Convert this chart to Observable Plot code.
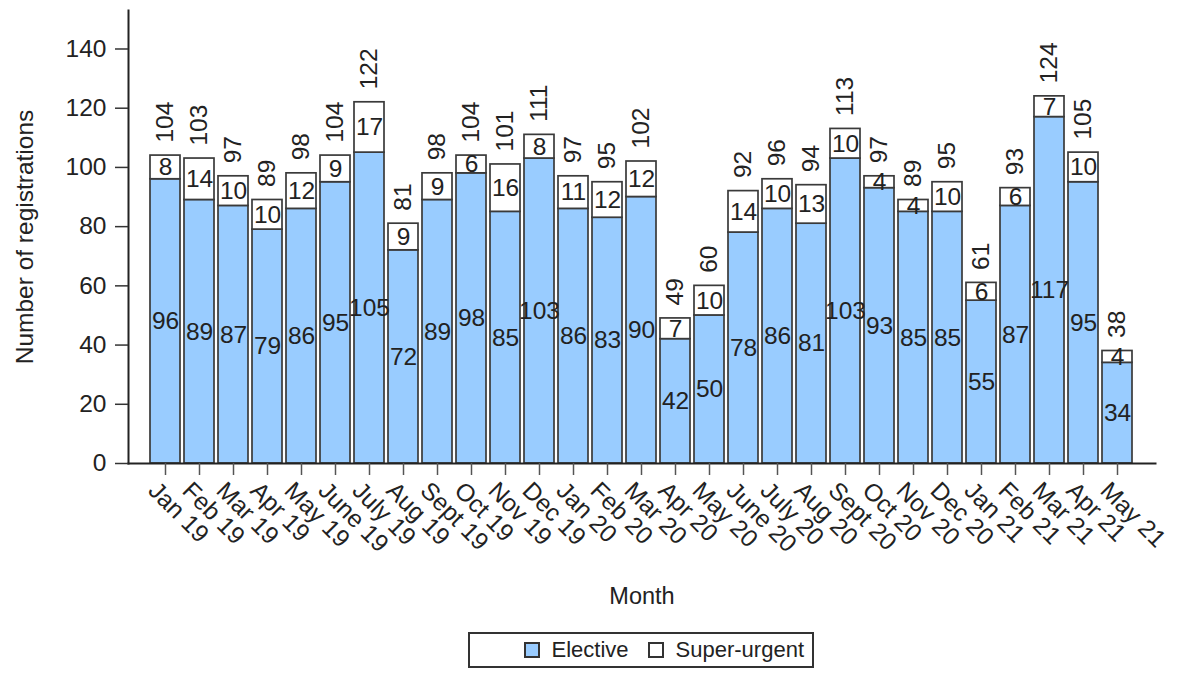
<!DOCTYPE html>
<html>
<head>
<meta charset="utf-8">
<script src="https://cdn.jsdelivr.net/npm/d3@7"></script>
<script src="https://cdn.jsdelivr.net/npm/@observablehq/plot@0.6"></script>
<style>
  html, body { margin: 0; padding: 0; background: #fff; }
  #wrap { position: relative; width: 1187px; height: 679px; font-family: "Liberation Sans", Arial, sans-serif; }
  #legend { position: absolute; left: 468px; top: 632px; width: 334px; height: 32px;
    border: 2px solid #333; display: flex; align-items: center; justify-content: flex-end;
    padding-right: 8px; box-sizing: content-box; font-size: 22px; color: #222; }
  #legend .item { display: flex; align-items: center; margin-left: 19px; }
  #legend .sw { width: 12px; height: 12px; border: 2px solid #333; margin-right: 12px; }
</style>
</head>
<body>
<div id="wrap">
  <div id="chart"></div>
  <div id="legend"></div>
</div>
<script>
const months = ["Jan 19","Feb 19","Mar 19","Apr 19","May 19","June 19","July 19","Aug 19","Sept 19","Oct 19","Nov 19","Dec 19",
  "Jan 20","Feb 20","Mar 20","Apr 20","May 20","June 20","July 20","Aug 20","Sept 20","Oct 20","Nov 20","Dec 20",
  "Jan 21","Feb 21","Mar 21","Apr 21","May 21"];
const elective = [96,89,87,79,86,95,105,72,89,98,85,103,86,83,90,42,50,78,86,81,103,93,85,85,55,87,117,95,34];
const superUrgent = [8,14,10,10,12,9,17,9,9,6,16,8,11,12,12,7,10,14,10,13,10,4,4,10,6,6,7,10,4];
const series = ["Elective","Super-urgent"];
const seriesColors = ["#99ccff","#ffffff"];
const yTicks = [0,20,40,60,80,100,120,140];

const rows = [];
months.forEach((m, i) => {
  rows.push({month: m, type: series[0], value: elective[i]});
  rows.push({month: m, type: series[1], value: superUrgent[i]});
});
const totals = months.map((m, i) => ({month: m, total: elective[i] + superUrgent[i]}));

const font = "Liberation Sans, Arial, sans-serif";
const chart = Plot.plot({
  width: 1187,
  height: 622,
  marginLeft: 128,
  marginRight: 32,
  marginTop: 10,
  marginBottom: 159,
  insetLeft: 18,
  insetRight: 19,
  style: {fontFamily: font, fontSize: "24px", color: "#222", background: "#fff"},
  x: {domain: months, paddingInner: 0.12, paddingOuter: 0.06},
  y: {domain: [0, 153]},
  color: {domain: series, range: seriesColors},
  marks: [
    Plot.barY(rows, {x: "month", y: "value", fill: "type", stroke: "#3a3a3a", strokeWidth: 1.7}),
    Plot.text(rows, Plot.stackY({x: "month", y: "value", text: d => String(d.value), fontSize: 24.5, fill: "#222"})),
    Plot.text(totals, {x: "month", y: "total", text: d => String(d.total), rotate: -90, textAnchor: "start", dy: -13, fontSize: 24.5, fill: "#222"}),
    Plot.frame({anchor: "left", stroke: "#222", strokeWidth: 2}),
    Plot.frame({anchor: "bottom", stroke: "#222", strokeWidth: 2}),
    Plot.axisY({ticks: yTicks, tickSize: 13, tickPadding: 9, stroke: "#333", strokeWidth: 1.5,
      label: "Number of registrations", labelAnchor: "center", labelArrow: "none", labelOffset: 113, fontSize: 24.5}),
    // rotated month tick labels
    Plot.axisX({tickSize: 0, tickPadding: 15, tickRotate: 45, fontSize: 24.5, dx: -13, dy: 8, label: null}),
    // tick marks
    Plot.axisX({tickSize: 12, tickPadding: 0, stroke: "#555", strokeWidth: 1.5, tickFormat: () => "", label: null}),
    // axis title
    Plot.axisX({ticks: [], label: "Month", labelAnchor: "center", labelArrow: "none", labelOffset: 140, fontSize: 23.5})
  ]
});
document.getElementById("chart").appendChild(chart);

const legend = document.getElementById("legend");
series.forEach((s, i) => {
  const item = document.createElement("div");
  item.className = "item";
  const sw = document.createElement("div");
  sw.className = "sw";
  sw.style.background = seriesColors[i];
  const lab = document.createElement("span");
  lab.textContent = s;
  item.appendChild(sw);
  item.appendChild(lab);
  legend.appendChild(item);
});
</script>
</body>
</html>
